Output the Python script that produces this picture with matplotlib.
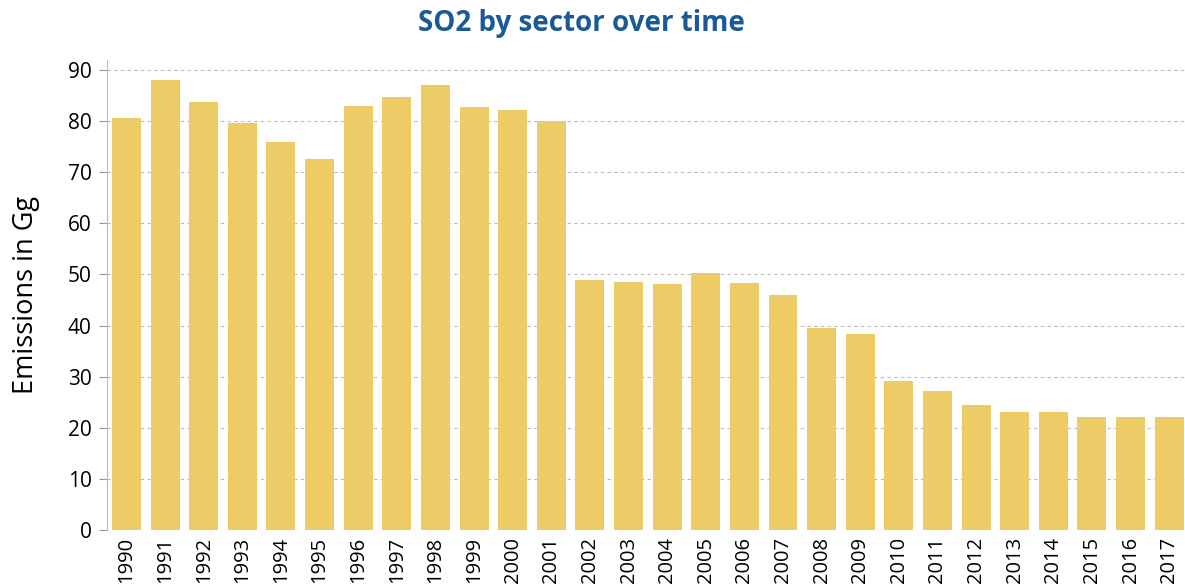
import matplotlib.pyplot as plt

# SO2 emissions per year (Gg)
years = [str(y) for y in range(1990, 2018)]
emissions = [80.6, 88.0, 83.7, 79.6, 75.9, 72.6, 83.0, 84.7, 87.1, 82.8,
             82.2, 80.0, 48.9, 48.5, 48.1, 50.3, 48.3, 46.0, 39.5, 38.3,
             29.2, 27.2, 24.5, 23.1, 23.1, 22.1, 22.1, 22.1]
y_ticks = [0, 10, 20, 30, 40, 50, 60, 70, 80, 90]

plt.rcParams['font.family'] = ['Open Sans', 'DejaVu Sans']

fig = plt.figure(figsize=(11.85, 5.88), dpi=100)
ax = fig.add_axes([0.0903, 0.0986, 0.9097, 0.80])

x = range(len(years))
ax.bar(x, emissions, width=0.75, color='#EDCB66', zorder=2)

ax.set_xlim(-0.505, len(years) - 0.59)
ax.set_ylim(0, 92)
ax.set_yticks(y_ticks)
ax.set_xticks(list(x))
ax.set_xticklabels(years, rotation=90, fontsize=14.5)
ax.tick_params(axis='y', labelsize=15, length=6, color='#999999', pad=5)
ax.tick_params(axis='x', length=0, pad=5)

ax.grid(axis='y', linestyle=(0, (3, 3)), color='#bbbbbb', linewidth=0.8, zorder=0)
for side in ['top', 'right', 'bottom']:
    ax.spines[side].set_visible(False)
ax.spines['left'].set_color('#bbbbbb')

ax.set_ylabel('Emissions in Gg', fontsize=19.5, labelpad=20)
fig.text(0.491, 0.96, 'SO2 by sector over time', ha='center', va='center',
         fontsize=20, fontweight='bold', color='#1B5A95')

fig.savefig('out.png', dpi=100)
